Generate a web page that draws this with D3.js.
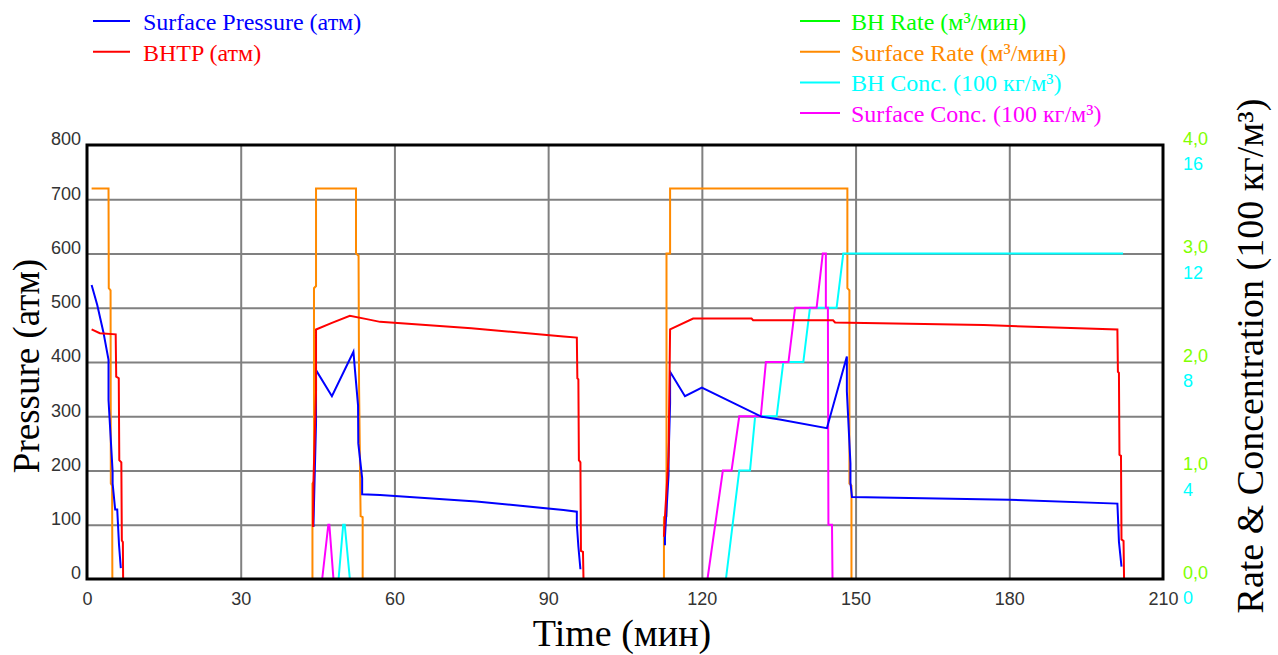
<!DOCTYPE html>
<html>
<head>
  <script src="https://d3js.org/d3.v7.min.js"></script>
  <style>
    body { margin: 0; background: #fff; }
    .tick text { font-family: "Liberation Sans", Arial, sans-serif; font-size: 18px; }
    .serif { font-family: "Liberation Serif", "Times New Roman", serif; }
  </style>
</head>
<body>
  <script>
    // Tick values
    const timeTicks = [0, 30, 60, 90, 120, 150, 180, 210];
    const pressureTicks = [0, 100, 200, 300, 400, 500, 600, 700, 800];
    const rateTicks = [0, 1, 2, 3, 4];
    const concTicks = [0, 4, 8, 12, 16];

    // Series: one list per pumping stage, points are [time (мин), value]
    const surfacePressure = [
      [[0.9, 542], [2.0, 505], [3.2, 455], [4.2, 404], [4.2, 330], [5.0, 198], [5.0, 176],
       [5.5, 128], [5.9, 128], [6.25, 63], [6.6, 20]],
      [[44.2, 96], [44.2, 100], [44.7, 288], [44.7, 385], [47.8, 337], [52.0, 419], [52.3, 385],
       [52.9, 320], [52.95, 250], [53.7, 186], [53.7, 156], [57.2, 155], [76.0, 143], [93.0, 127],
       [95.6, 124], [95.6, 101], [95.9, 60], [96.3, 18]],
      [[112.8, 62], [112.8, 78], [113.5, 192], [113.5, 222], [113.8, 324], [113.8, 382],
       [116.7, 337], [120.0, 353], [131.7, 299], [135.2, 294], [144.4, 278], [148.3, 410],
       [148.3, 346], [149.0, 213], [149.0, 178], [149.3, 151], [180.0, 146], [201.1, 139],
       [201.2, 117], [201.4, 69], [201.9, 23]]
    ];

    const bhtp = [
      [[0.9, 460], [2.5, 453], [5.6, 451], [5.7, 373], [6.2, 370], [6.3, 219], [6.7, 215],
       [6.8, 71], [7.0, 68], [7.05, 0]],
      [[44.1, 96], [44.2, 180], [44.7, 345], [44.7, 460], [47.8, 472], [51.3, 485], [54.6, 479],
       [57.2, 474], [75.0, 462], [93.0, 447], [95.6, 445], [95.7, 370], [95.9, 368], [96.0, 219],
       [96.3, 215], [96.4, 52], [96.8, 50], [96.9, 0]],
      [[112.6, 78], [112.8, 115], [113.5, 225], [113.8, 460], [118.3, 480], [129.7, 480],
       [130.0, 477], [145.6, 477], [146.0, 473], [175.0, 468], [201.1, 460], [201.2, 382],
       [201.4, 380], [201.5, 229], [201.8, 227], [201.9, 73], [202.3, 70], [202.4, 0]]
    ];

    const surfaceRate = [
      [[0.9, 3.6], [4.2, 3.6], [4.25, 2.68], [4.6, 2.66], [4.65, 0.88], [4.9, 0.86], [4.95, 0]],
      [[44.0, 0], [44.0, 0.88], [44.3, 0.9], [44.3, 2.68], [44.7, 2.7], [44.7, 3.6], [52.5, 3.6],
       [52.5, 3.0], [53.0, 2.98], [53.1, 1.77], [53.4, 0.58], [53.8, 0.57], [53.8, 0]],
      [[112.6, 0], [112.6, 0.57], [113.1, 0.58], [113.1, 3.0], [113.8, 3.0], [113.8, 3.6],
       [148.4, 3.6], [148.4, 2.68], [148.8, 2.66], [148.8, 0.88], [149.2, 0.86], [149.2, 0]]
    ];

    const bhConc = [
      [[49.1, 0], [50.0, 2], [50.3, 2], [51.3, 0]],
      [[124.7, 0], [127.3, 4], [129.4, 4], [130.4, 6], [134.6, 6], [135.9, 8], [139.8, 8],
       [141.1, 10], [146.3, 10], [147.6, 12], [202.2, 12]]
    ];

    const surfaceConc = [
      [[45.9, 0], [47.1, 2], [47.3, 2], [48.1, 0]],
      [[121.1, 0], [124.1, 4], [125.8, 4], [127.3, 6], [131.5, 6], [132.5, 8], [136.9, 8],
       [138.2, 10], [142.4, 10], [143.6, 12], [144.2, 12], [144.2, 10], [144.6, 10], [144.7, 2],
       [145.4, 2], [145.5, 0]]
    ];

    // Legends
    const leftLegend = ["Surface Pressure (атм)", "BHTP (атм)"];
    const leftColors = ["#0000ff", "#ff0000"];
    const rightLegend = ["BH Rate (м³/мин)", "Surface Rate (м³/мин)", "BH Conc. (100 кг/м³)", "Surface Conc. (100 кг/м³)"];
    const rightColors = ["#00ff00", "#ff8a00", "#00ffff", "#ff00ff"];

    const margin = {top: 145, right: 115, bottom: 76, left: 87},
          width = 1278 - margin.left - margin.right,
          height = 655 - margin.top - margin.bottom;

    const svg = d3.select("body")
      .append("svg")
        .attr("width", 1278)
        .attr("height", 655);

    const g = svg.append("g")
      .attr("transform", `translate(${margin.left},${margin.top})`);

    // Scales
    const x = d3.scaleLinear().domain([0, 210]).range([0, width]);
    const yP = d3.scaleLinear().domain([0, 800]).range([height, 0]);
    const yRate = d3.scaleLinear().domain([0, 4]).range([height, 0]);
    const yConc = d3.scaleLinear().domain([0, 16]).range([height, 0]);

    // Grid
    g.append("g")
      .attr("transform", `translate(0,${height})`)
      .call(d3.axisBottom(x).tickValues(timeTicks.slice(1, -1)).tickSize(-height).tickFormat(""))
      .call(s => s.select(".domain").remove())
      .selectAll("line").attr("stroke", "#808080").attr("stroke-width", 2);
    g.append("g")
      .call(d3.axisLeft(yP).tickValues(pressureTicks.slice(1, -1)).tickSize(-width).tickFormat(""))
      .call(s => s.select(".domain").remove())
      .selectAll("line").attr("stroke", "#808080").attr("stroke-width", 2);

    // Lines
    function drawSeries(stages, yScale, color) {
      const line = d3.line().x(d => x(d[0])).y(d => yScale(d[1]));
      stages.forEach(stage => {
        g.append("path")
          .datum(stage)
          .attr("fill", "none")
          .attr("stroke", color)
          .attr("stroke-width", 2)
          .attr("d", line);
      });
    }
    drawSeries(surfaceRate, yRate, rightColors[1]);
    drawSeries(bhConc, yConc, rightColors[2]);
    drawSeries(surfaceConc, yConc, rightColors[3]);
    drawSeries(surfacePressure, yP, leftColors[0]);
    drawSeries(bhtp, yP, leftColors[1]);

    // Frame
    g.append("rect")
      .attr("width", width)
      .attr("height", height)
      .attr("fill", "none")
      .attr("stroke", "#000")
      .attr("stroke-width", 3);

    // Axes labels
    const xAxis = g.append("g")
      .attr("transform", `translate(0,${height})`)
      .call(d3.axisBottom(x).tickValues(timeTicks).tickSize(0).tickPadding(13));
    xAxis.select(".domain").remove();
    xAxis.selectAll("text").attr("fill", "#333");

    const yAxis = g.append("g")
      .call(d3.axisLeft(yP).tickValues(pressureTicks).tickSize(0).tickPadding(6));
    yAxis.select(".domain").remove();
    yAxis.selectAll("text").attr("fill", "#333").attr("y", -6);

    const commaFmt = d3.formatLocale({decimal: ",", thousands: " ", grouping: [3], currency: ["", ""]}).format(".1f");
    const rAxis = g.append("g")
      .attr("transform", `translate(${width},0)`)
      .call(d3.axisRight(yRate).tickValues(rateTicks).tickSize(0).tickPadding(20).tickFormat(commaFmt));
    rAxis.select(".domain").remove();
    rAxis.selectAll("text").attr("fill", "#80ff00").attr("y", -6.5);

    const cAxis = g.append("g")
      .attr("transform", `translate(${width},0)`)
      .call(d3.axisRight(yConc).tickValues(concTicks).tickSize(0).tickPadding(20));
    cAxis.select(".domain").remove();
    cAxis.selectAll("text").attr("fill", "#00ffff").attr("y", 19);

    // Titles
    svg.append("text")
      .attr("class", "serif")
      .attr("transform", "translate(26,366) rotate(-90)")
      .attr("text-anchor", "middle")
      .attr("dominant-baseline", "central")
      .attr("font-size", 37)
      .text("Pressure (атм)");
    svg.append("text")
      .attr("class", "serif")
      .attr("x", 622)
      .attr("y", 633)
      .attr("text-anchor", "middle")
      .attr("dominant-baseline", "central")
      .attr("font-size", 38)
      .text("Time (мин)");
    svg.append("text")
      .attr("class", "serif")
      .attr("transform", "translate(1250,356) rotate(-90)")
      .attr("text-anchor", "middle")
      .attr("dominant-baseline", "central")
      .attr("font-size", 38)
      .text("Rate & Concentration (100 кг/м³)");

    // Legends
    function drawLegend(labels, colors, x0, lineLen, textX) {
      labels.forEach((label, i) => {
        const yRow = 21 + i * 30.7;
        svg.append("line")
          .attr("x1", x0).attr("x2", x0 + lineLen)
          .attr("y1", yRow).attr("y2", yRow)
          .attr("stroke", colors[i]).attr("stroke-width", 2);
        svg.append("text")
          .attr("class", "serif")
          .attr("x", textX)
          .attr("y", yRow + 9)
          .attr("font-size", 24)
          .attr("fill", colors[i])
          .text(label);
      });
    }
    drawLegend(leftLegend, leftColors, 93, 37, 143);
    drawLegend(rightLegend, rightColors, 800, 40, 851);
  </script>
</body>
</html>
